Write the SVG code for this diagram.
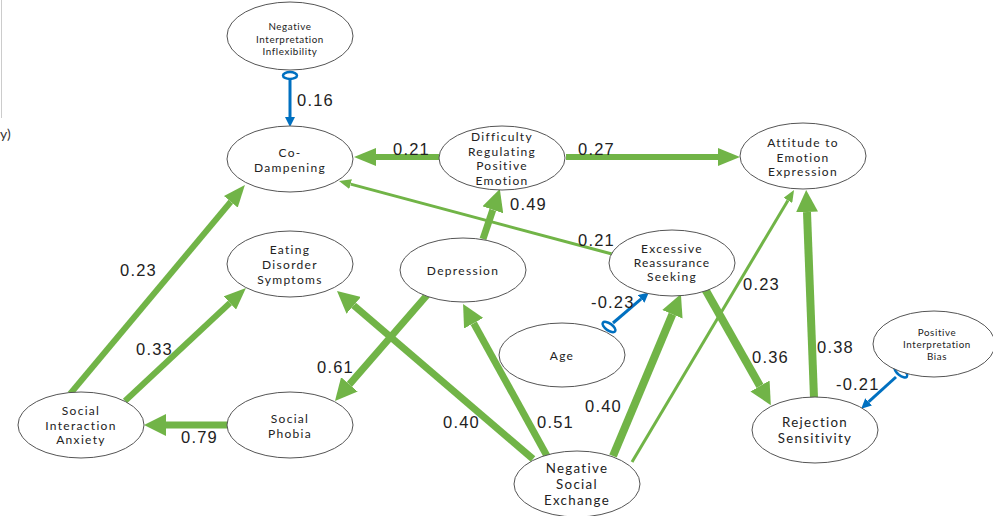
<svg xmlns="http://www.w3.org/2000/svg" width="993" height="516" viewBox="0 0 993 516">
<style>
.n{fill:#fff;stroke:#555;stroke-width:1}
.t{font-family:Lato,"Open Sans",sans-serif;font-size:12px;fill:#222;text-anchor:middle;letter-spacing:1.3px}
.ts{font-family:Lato,"Open Sans",sans-serif;font-size:9.8px;fill:#222;text-anchor:middle;letter-spacing:0.6px}
.g{stroke:#71B447;fill:none}
.b{stroke:#0070C0;fill:none;stroke-width:3}
.ring{fill:none;stroke:#0070C0;stroke-width:2.5}
.l{font-family:"Liberation Sans",Arial,sans-serif;font-size:16.5px;fill:#222;letter-spacing:1.2px}
</style>
<defs>
<marker id="ab" markerUnits="userSpaceOnUse" markerWidth="22" markerHeight="22" viewBox="0 0 22 22" refX="0" refY="11" orient="auto"><path d="M0,0L22,11L0,22z" fill="#71B447"/></marker>
<marker id="am" markerUnits="userSpaceOnUse" markerWidth="22" markerHeight="18" viewBox="0 0 22 18" refX="0" refY="9" orient="auto"><path d="M0,0L22,9L0,18z" fill="#71B447"/></marker>
<marker id="at" markerUnits="userSpaceOnUse" markerWidth="12" markerHeight="10" viewBox="0 0 12 10" refX="0" refY="5" orient="auto"><path d="M0,0L12,5L0,10z" fill="#71B447"/></marker>
<marker id="ablue" markerUnits="userSpaceOnUse" markerWidth="10" markerHeight="10" viewBox="0 0 10 10" refX="0" refY="5" orient="auto"><path d="M0,0L10,5L0,10z" fill="#0070C0"/></marker>
</defs>
<rect width="993" height="516" fill="#fff"/>
<line x1="1.5" y1="0" x2="1.5" y2="118" stroke="#ccc" stroke-width="1"/>
<text x="0" y="139" font-family="Lato,Open Sans,sans-serif" font-size="14" fill="#333">y)</text>

<g id="connectors">
<line class="g" stroke-width="6" x1="439" y1="157" x2="376" y2="157" marker-end="url(#am)"/>
<line class="g" stroke-width="6" x1="566" y1="157" x2="718" y2="157" marker-end="url(#am)"/>
<line class="g" stroke-width="7" x1="483" y1="239" x2="492.8" y2="209.8" marker-end="url(#ab)"/>
<line class="g" stroke-width="3" x1="612" y1="254" x2="350.6" y2="184.1" marker-end="url(#at)"/>
<line class="g" stroke-width="3" x1="632" y1="462" x2="787.9" y2="200.4" marker-end="url(#at)"/>
<line class="g" stroke-width="8" x1="814" y1="398" x2="807" y2="212" marker-end="url(#ab)"/>
<line class="g" stroke-width="8" x1="705" y1="289" x2="760" y2="386" marker-end="url(#ab)"/>
<line class="g" stroke-width="8" x1="613" y1="456" x2="672.4" y2="314.3" marker-end="url(#ab)"/>
<line class="g" stroke-width="7" x1="547" y1="456" x2="473.7" y2="323.2" marker-end="url(#ab)"/>
<line class="g" stroke-width="7" x1="533" y1="459" x2="353.7" y2="305.3" marker-end="url(#ab)"/>
<line class="g" stroke-width="7" x1="428" y1="294" x2="349.4" y2="384.4" marker-end="url(#ab)"/>
<line class="g" stroke-width="7" x1="228" y1="425" x2="166" y2="425" marker-end="url(#ab)"/>
<line class="g" stroke-width="6" x1="125" y1="401" x2="229.9" y2="303" marker-end="url(#am)"/>
<line class="g" stroke-width="6" x1="70" y1="394" x2="230.8" y2="201.8" marker-end="url(#am)"/>
<line class="b" x1="290" y1="79" x2="290" y2="117" marker-end="url(#ablue)"/>
<ellipse class="ring" cx="290" cy="75.5" rx="7" ry="3.5"/>
<line class="b" x1="613" y1="323" x2="641.2" y2="298.9" marker-end="url(#ablue)"/>
<ellipse class="ring" cx="609" cy="327" rx="7.5" ry="3.5" transform="rotate(35 609 327)"/>
<line class="b" x1="896" y1="377" x2="868.6" y2="401.9" marker-end="url(#ablue)"/>
<ellipse class="ring" cx="901" cy="372" rx="7.5" ry="3.5" transform="rotate(38 901 372)"/>
<text class="l" x="297" y="106">0.16</text>
<text class="l" x="393" y="155">0.21</text>
<text class="l" x="578" y="155">0.27</text>
<text class="l" x="510" y="210">0.49</text>
<text class="l" x="578" y="246">0.21</text>
<text class="l" x="743" y="290">0.23</text>
<text class="l" x="817" y="353">0.38</text>
<text class="l" x="752" y="363">0.36</text>
<text class="l" x="836" y="390">-0.21</text>
<text class="l" x="591" y="308">-0.23</text>
<text class="l" x="585" y="412">0.40</text>
<text class="l" x="537" y="428">0.51</text>
<text class="l" x="443" y="428">0.40</text>
<text class="l" x="317" y="373">0.61</text>
<text class="l" x="181" y="443">0.79</text>
<text class="l" x="136" y="355">0.33</text>
<text class="l" x="120" y="276">0.23</text>
</g>

<g id="negative-interpretation-inflexibility">
<ellipse class="n" cx="290" cy="36" rx="63" ry="34"/>
<text class="ts" x="290" y="30">Negative</text>
<text class="ts" x="290" y="42.5">Interpretation</text>
<text class="ts" x="290" y="55">Inflexibility</text>
</g>
<g id="co-dampening">
<ellipse class="n" cx="290" cy="159" rx="63" ry="33"/>
<text class="t" x="290" y="157">Co-</text>
<text class="t" x="290" y="171.5">Dampening</text>
</g>
<g id="difficulty-regulating">
<ellipse class="n" cx="502" cy="158" rx="63" ry="32"/>
<text class="t" x="502" y="141">Difficulty</text>
<text class="t" x="502" y="155.5">Regulating</text>
<text class="t" x="502" y="170">Positive</text>
<text class="t" x="502" y="184.5">Emotion</text>
</g>
<g id="attitude">
<ellipse class="n" cx="803" cy="156" rx="63" ry="33"/>
<text class="t" x="803" y="147">Attitude to</text>
<text class="t" x="803" y="161.5">Emotion</text>
<text class="t" x="803" y="176">Expression</text>
</g>
<g id="depression">
<ellipse class="n" cx="463" cy="270" rx="63" ry="32"/>
<text class="t" x="463" y="275">Depression</text>
</g>
<g id="excessive-reassurance">
<ellipse class="n" cx="672" cy="263" rx="63" ry="33"/>
<text class="t" x="672" y="253">Excessive</text>
<text class="t" x="672" y="267" style="letter-spacing:1px">Reassurance</text>
<text class="t" x="672" y="281">Seeking</text>
</g>
<g id="eating-disorder">
<ellipse class="n" cx="290" cy="264" rx="63" ry="33"/>
<text class="t" x="290" y="254">Eating</text>
<text class="t" x="290" y="269">Disorder</text>
<text class="t" x="290" y="284">Symptoms</text>
</g>
<g id="social-interaction-anxiety">
<ellipse class="n" cx="81" cy="425" rx="63" ry="33"/>
<text class="t" x="81" y="415">Social</text>
<text class="t" x="81" y="429.5">Interaction</text>
<text class="t" x="81" y="444">Anxiety</text>
</g>
<g id="social-phobia">
<ellipse class="n" cx="290" cy="425" rx="63" ry="33"/>
<text class="t" x="290" y="423">Social</text>
<text class="t" x="290" y="437.5">Phobia</text>
</g>
<g id="age">
<ellipse class="n" cx="562" cy="355" rx="63" ry="32"/>
<text class="t" x="562" y="360">Age</text>
</g>
<g id="negative-social-exchange">
<ellipse class="n" cx="577" cy="484" rx="63" ry="33"/>
<text class="t" x="577" y="473" style="font-size:13.3px">Negative</text>
<text class="t" x="577" y="489" style="font-size:13.3px">Social</text>
<text class="t" x="577" y="505" style="font-size:13.3px">Exchange</text>
</g>
<g id="rejection-sensitivity">
<ellipse class="n" cx="815" cy="430" rx="63" ry="33"/>
<text class="t" x="815" y="427" style="font-size:13.3px">Rejection</text>
<text class="t" x="815" y="443" style="font-size:13.3px">Sensitivity</text>
</g>
<g id="positive-interpretation-bias">
<ellipse class="n" cx="934" cy="344" rx="61" ry="33"/>
<text class="ts" x="937" y="336">Positive</text>
<text class="ts" x="937" y="348">Interpretation</text>
<text class="ts" x="937" y="360">Bias</text>
</g>
</svg>
